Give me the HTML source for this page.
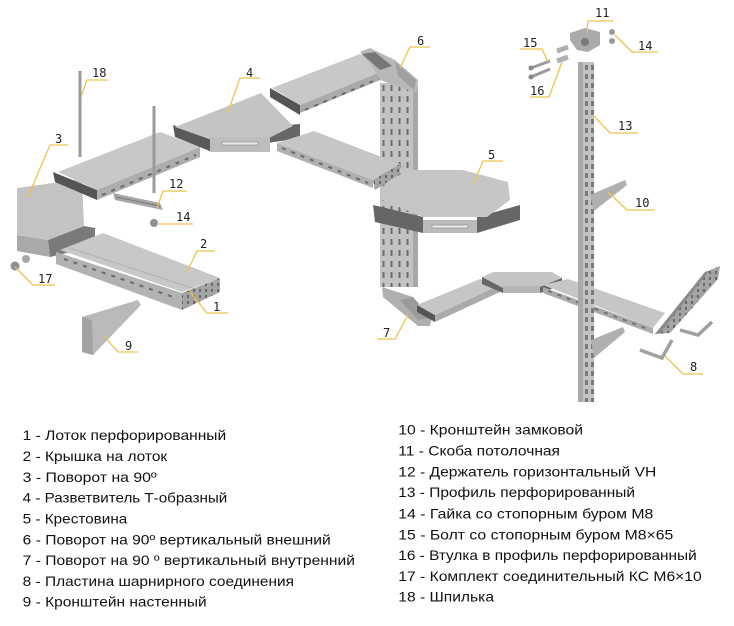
<!DOCTYPE html>
<html><head><meta charset="utf-8"><style>
html,body{margin:0;padding:0;background:#fff;}
svg{display:block;}
.lbl{font-family:"DejaVu Sans Mono","Liberation Mono",monospace;font-size:12px;fill:#222;}
.txt{font-family:"Liberation Sans","Noto Sans CJK SC",sans-serif;font-size:14px;fill:#111;}
.ld{fill:none;stroke:#efc24f;stroke-width:1.3;}
</style></head><body>
<svg width="734" height="626" viewBox="0 0 734 626" xmlns="http://www.w3.org/2000/svg">
<defs>
<pattern id="perf" x="380" y="83" width="8" height="11" patternUnits="userSpaceOnUse">
<rect width="8" height="11" fill="#c3c3c3"/>
<rect x="2.5" y="2" width="2" height="6" fill="#6e6e6e"/>
</pattern>
<pattern id="perf2" x="0" y="0" width="6" height="6" patternUnits="userSpaceOnUse">
<rect width="6" height="6" fill="#a4a4a4"/>
<rect x="1" y="1" width="2" height="3" fill="#6a6a6a"/>
</pattern>
<pattern id="slot13" x="584" y="64" width="6" height="9" patternUnits="userSpaceOnUse">
<rect width="6" height="9" fill="#c2c2c2"/>
<rect x="1" y="1" width="3" height="5" fill="#7a7a7a"/>
</pattern>
</defs>

<!-- Part 3 -->
<polygon points="48,240 84,226 95,228 95,246 50,257" fill="#7a7a7a"/>
<polygon points="17,235 48,240 50,257 17,251" fill="#a9a9a9"/>
<polygon points="17,188 82,179 84,226 48,240 17,235" fill="#c3c3c3"/>

<!-- Tray 2 (lower left) -->
<polygon points="56,252 182,293 182,310 56,264" fill="#b2b2b2"/>
<line x1="64" y1="259" x2="176" y2="298" stroke="#6a6a6a" stroke-width="2" stroke-dasharray="4 6"/>
<polygon points="60,250 103,233 220,278 182,292" fill="#c8c8c8"/>
<line x1="70" y1="248" x2="195" y2="289" stroke="#b0b0b0" stroke-width="1"/>
<polygon points="182,293 220,278 220,292 182,310" fill="url(#perf2)"/>

<!-- Bracket 9 -->
<polygon points="82,317 138,300 141,305 93,355 82,352" fill="#b9b9b9"/>
<polygon points="82,317 92,320 93,355 82,352" fill="#a2a2a2"/>

<!-- 17 nuts -->
<circle cx="15" cy="266" r="4.5" fill="#8f8f8f"/>
<circle cx="26" cy="259" r="4" fill="#a8a8a8"/>

<!-- Rod 18 -->
<rect x="78.5" y="71" width="3" height="86" fill="#9a9a9a"/>

<!-- Upper-left tray -->
<polygon points="53,172 97,190 97,200 55,182" fill="#555"/>
<polygon points="97,190 200,147 200,157 97,200" fill="#adadad"/>
<line x1="102" y1="195" x2="196" y2="155" stroke="#6a6a6a" stroke-width="2" stroke-dasharray="4 6"/>
<polygon points="58,172 160,132 200,147 97,190" fill="#c8c8c8"/>

<!-- Holder 12 & nut 14 -->
<polygon points="113,193 160,203 163,210 115,200" fill="#a5a5a5"/>
<line x1="116" y1="197" x2="160" y2="206" stroke="#777" stroke-width="1"/>
<rect x="152.5" y="106" width="3" height="87" fill="#9a9a9a"/>
<circle cx="154" cy="223" r="4" fill="#8f8f8f"/>

<!-- T piece 4 -->
<polygon points="173,125 212,140 212,152 175,137" fill="#5a5a5a"/>
<polygon points="262,127 300,124 300,138 268,143" fill="#666"/>
<polygon points="175,127 261,93 293,126 265,140 212,140" fill="#c4c4c4"/>
<polygon points="210,137 270,137 270,152 210,152" fill="#bdbdbd"/>
<rect x="222" y="142" width="36" height="3" fill="#e8e8e8" stroke="#888" stroke-width="0.6"/>

<!-- Upper-right tray -->
<polygon points="270,88 300,105 300,115 270,97" fill="#555"/>
<polygon points="300,105 390,68 390,76 300,113" fill="#aaa"/>
<line x1="305" y1="110" x2="385" y2="76" stroke="#6a6a6a" stroke-width="2" stroke-dasharray="4 6"/>
<polygon points="272,88 360,54 390,68 300,105" fill="#c8c8c8"/>

<!-- Vertical column -->
<rect x="380" y="83" width="33" height="204" fill="url(#perf)"/>
<rect x="413" y="86" width="5" height="201" fill="#a8a8a8"/>

<!-- Lower-right tray -->
<polygon points="277,143 373,180 373,188 277,151" fill="#b0b0b0"/>
<line x1="282" y1="148" x2="368" y2="183" stroke="#6a6a6a" stroke-width="2" stroke-dasharray="4 6"/>
<polygon points="277,143 314,131 400,164 373,180" fill="#c6c6c6"/>
<polygon points="373,180 400,164 400,174 375,190" fill="url(#perf2)"/>

<!-- Part 6 elbow -->
<polygon points="360,52 370,48 395,60 418,80 417,93 380,80 372,66" fill="#b8b8b8"/>
<polygon points="362,54 375,52 392,66 380,70" fill="#777"/>
<polygon points="395,62 416,80 414,90 398,76" fill="#a0a0a0"/>

<!-- Crossover 5 -->
<polygon points="373,205 423,217 423,233 375,222" fill="#666"/>
<polygon points="477,217 520,205 520,220 477,233" fill="#666"/>
<polygon points="423,220 477,220 477,233 423,233" fill="#bbb"/>
<rect x="432" y="225" width="36" height="3" fill="#e8e8e8" stroke="#888" stroke-width="0.6"/>
<polygon points="382,187 407,170 463,170 508,182 510,200 487,217 423,217 382,200" fill="#c6c6c6"/>

<!-- Part 7 -->
<polygon points="382,287 413,297 432,318 430,326 418,326 383,297" fill="#b0b0b0"/>
<polygon points="400,300 413,297 430,318 418,320" fill="#9a9a9a"/>

<!-- Lower tray -->
<polygon points="417,305 435,315 435,322 417,312" fill="#555"/>
<polygon points="435,315 500,285 500,292 435,322" fill="#aaa"/>
<polygon points="417,305 480,279 500,285 435,315" fill="#c6c6c6"/>

<!-- Connector -->
<polygon points="482,277 503,286 503,293 482,284" fill="#666"/>
<polygon points="540,286 562,278 562,285 540,293" fill="#666"/>
<polygon points="482,277 493,272 552,272 562,278 540,287 503,288" fill="#c4c4c4"/>
<polygon points="503,286 540,286 540,293 503,293" fill="#b5b5b5"/>

<!-- Right tray -->
<polygon points="543,287 653,328 653,334 543,293" fill="#aaa"/>
<line x1="548" y1="291" x2="648" y2="329" stroke="#6a6a6a" stroke-width="1.6" stroke-dasharray="4 6"/>
<polygon points="543,285 568,279 665,313 653,328" fill="#c6c6c6"/>

<!-- End panel 8 -->
<polygon points="655,334 705,272 720,266 718,279 670,333" fill="url(#perf2)"/>
<polygon points="655,334 705,272 709,271 660,333" fill="#8a8a8a"/>

<!-- Profile 13 -->
<rect x="578" y="62" width="5" height="340" fill="#a9a9a9"/>
<rect x="583" y="62" width="11" height="340" fill="url(#slot13)"/>

<!-- Brackets -->
<polygon points="590,195 625,180 627,185 594,211" fill="#b0b0b0"/>
<polygon points="591,340 623,327 625,332 594,358" fill="#b0b0b0"/>

<!-- Plates 8 -->
<polyline points="640,350 662,358 672,340" fill="none" stroke="#a0a0a0" stroke-width="3.5"/>
<polyline points="680,330 698,335 712,322" fill="none" stroke="#a0a0a0" stroke-width="3.5"/>

<!-- Part 11 -->
<polygon points="570,33 585,28 600,32 600,45 588,52 577,50 570,40" fill="#aaa"/>
<circle cx="585" cy="42" r="4" fill="#7a7a7a"/>
<circle cx="612" cy="32" r="3" fill="#999"/>
<circle cx="612" cy="41" r="3" fill="#999"/>

<!-- Bolts 15 / sleeves 16 -->
<line x1="531" y1="68" x2="550" y2="61" stroke="#9a9a9a" stroke-width="3"/>
<line x1="531" y1="77" x2="550" y2="69" stroke="#9a9a9a" stroke-width="3"/>
<circle cx="531" cy="68" r="2.5" fill="#888"/>
<circle cx="531" cy="77" r="2.5" fill="#888"/>
<line x1="557" y1="51" x2="568" y2="47" stroke="#b0b0b0" stroke-width="5"/>
<line x1="557" y1="61" x2="568" y2="57" stroke="#b0b0b0" stroke-width="5"/>

<!-- Leaders -->
<polyline class="ld" points="81,97 87,80 108,80"/>
<polyline class="ld" points="28,197 50,145 68,145"/>
<polyline class="ld" points="228,112 240,78 260,78"/>
<polyline class="ld" points="400,68 410,47 430,47"/>
<polyline class="ld" points="473,185 483,161 503,161"/>
<polyline class="ld" points="157,208 163,191 187,191"/>
<polyline class="ld" points="157,224 193,224"/>
<polyline class="ld" points="187,272 197,251 215,251"/>
<polyline class="ld" points="190,292 207,313 228,313"/>
<polyline class="ld" points="15,267 33,285 55,285"/>
<polyline class="ld" points="103,335 118,352 138,352"/>
<polyline class="ld" points="408,315 395,339 377,339"/>
<polyline class="ld" points="665,356 683,374 703,374"/>
<polyline class="ld" points="608,192 627,210 655,210"/>
<polyline class="ld" points="593,115 610,133 638,133"/>
<polyline class="ld" points="587,33 588,21 613,21"/>
<polyline class="ld" points="615,35 632,52 658,52"/>
<polyline class="ld" points="520,49 542,49 548,62"/>
<polyline class="ld" points="530,97 549,97 562,62"/>

<!-- Labels -->
<text class="lbl" x="92" y="77">18</text>
<text class="lbl" x="55" y="143">3</text>
<text class="lbl" x="246" y="77">4</text>
<text class="lbl" x="417" y="45">6</text>
<text class="lbl" x="488" y="159">5</text>
<text class="lbl" x="169" y="188">12</text>
<text class="lbl" x="176" y="221">14</text>
<text class="lbl" x="200" y="248">2</text>
<text class="lbl" x="213" y="311">1</text>
<text class="lbl" x="38" y="283">17</text>
<text class="lbl" x="125" y="350">9</text>
<text class="lbl" x="383" y="337">7</text>
<text class="lbl" x="690" y="371">8</text>
<text class="lbl" x="635" y="207">10</text>
<text class="lbl" x="618" y="130">13</text>
<text class="lbl" x="595" y="17">11</text>
<text class="lbl" x="638" y="50">14</text>
<text class="lbl" x="523" y="47">15</text>
<text class="lbl" x="530" y="95">16</text>

<!-- Legend left -->
<text class="txt" x="22.7" y="440" textLength="203.5" lengthAdjust="spacingAndGlyphs">1 - Лоток перфорированный</text>
<text class="txt" x="22.7" y="461" textLength="144.5" lengthAdjust="spacingAndGlyphs">2 - Крышка на лоток</text>
<text class="txt" x="22.7" y="482" textLength="134" lengthAdjust="spacingAndGlyphs">3 - Поворот на 90º</text>
<text class="txt" x="22.7" y="502.6" textLength="204.6" lengthAdjust="spacingAndGlyphs">4 - Разветвитель Т-образный</text>
<text class="txt" x="22.7" y="523.4" textLength="104.6" lengthAdjust="spacingAndGlyphs">5 - Крестовина</text>
<text class="txt" x="22.7" y="544.3" textLength="308" lengthAdjust="spacingAndGlyphs">6 - Поворот на 90º вертикальный внешний</text>
<text class="txt" x="22.7" y="565" textLength="332.3" lengthAdjust="spacingAndGlyphs">7 - Поворот на 90 º вертикальный внутренний</text>
<text class="txt" x="22.7" y="585.8" textLength="271.3" lengthAdjust="spacingAndGlyphs">8 - Пластина шарнирного соединения</text>
<text class="txt" x="22.7" y="606.7" textLength="184" lengthAdjust="spacingAndGlyphs">9 - Кронштейн настенный</text>

<!-- Legend right -->
<text class="txt" x="398.3" y="434.5" textLength="184.7" lengthAdjust="spacingAndGlyphs">10 - Кронштейн замковой</text>
<text class="txt" x="398.3" y="455.4" textLength="161.7" lengthAdjust="spacingAndGlyphs">11 - Скоба потолочная</text>
<text class="txt" x="398.3" y="476.3" textLength="258" lengthAdjust="spacingAndGlyphs">12 - Держатель горизонтальный VH</text>
<text class="txt" x="398.3" y="497.2" textLength="236.7" lengthAdjust="spacingAndGlyphs">13 - Профиль перфорированный</text>
<text class="txt" x="398.3" y="518.6" textLength="255" lengthAdjust="spacingAndGlyphs">14 - Гайка со стопорным буром М8</text>
<text class="txt" x="398.3" y="539.3" textLength="275" lengthAdjust="spacingAndGlyphs">15 - Болт со стопорным буром М8×65</text>
<text class="txt" x="398.3" y="560" textLength="298.4" lengthAdjust="spacingAndGlyphs">16 - Втулка в профиль перфорированный</text>
<text class="txt" x="398.3" y="581" textLength="303.4" lengthAdjust="spacingAndGlyphs">17 - Комплект соединительный КС М6×10</text>
<text class="txt" x="398.3" y="601.7" textLength="95.7" lengthAdjust="spacingAndGlyphs">18 - Шпилька</text>
</svg>
</body></html>
